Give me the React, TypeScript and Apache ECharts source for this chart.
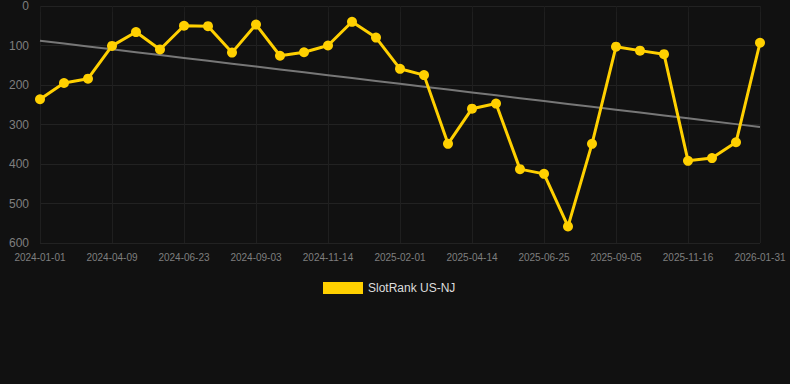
import React, { useEffect, useRef } from "react";
import * as echarts from "echarts";

const categories: string[] = [
  "2024-01-01", "2024-02-03", "2024-03-07", "2024-04-09", "2024-05-04", "2024-05-29",
  "2024-06-23", "2024-07-17", "2024-08-10", "2024-09-03", "2024-09-27", "2024-10-21",
  "2024-11-14", "2024-12-10", "2025-01-06", "2025-02-01", "2025-02-25", "2025-03-21",
  "2025-04-14", "2025-05-08", "2025-06-01", "2025-06-25", "2025-07-19", "2025-08-12",
  "2025-09-05", "2025-09-29", "2025-10-23", "2025-11-16", "2025-12-11", "2026-01-06",
  "2026-01-31",
];

const rankValues: number[] = [
  236, 195, 184, 101, 66, 110, 50, 51, 118, 47, 126, 117, 100, 40, 80, 159, 175,
  349, 260, 247, 413, 425, 558, 349, 103, 113, 122, 392, 385, 345, 93,
];

const seriesName = "SlotRank US-NJ";
const yTicks = { min: 0, max: 600, interval: 100 };

function linearTrend(values: number[]): number[] {
  const n = values.length;
  const mx = (n - 1) / 2;
  const my = values.reduce((a, b) => a + b, 0) / n;
  let num = 0;
  let den = 0;
  values.forEach((v, i) => {
    num += (i - mx) * (v - my);
    den += (i - mx) * (i - mx);
  });
  const slope = num / den;
  return values.map((_, i) => my + slope * (i - mx));
}

export default function App() {
  const ref = useRef<HTMLDivElement>(null);
  useEffect(() => {
    if (!ref.current) return;
    const chart = echarts.init(ref.current, undefined, { renderer: "svg" });
    const trend = linearTrend(rankValues);
    chart.setOption({
      animation: false,
      backgroundColor: "#111111",
      grid: { left: 40, right: 30, top: 6, bottom: 141 },
      legend: {
        data: [{ name: seriesName, icon: "rect" }],
        top: 277,
        left: 318,
        itemWidth: 40,
        itemHeight: 12,
        itemGap: 10,
        textStyle: { color: "#dddddd", fontSize: 12, fontFamily: "Liberation Sans, Arial, sans-serif" },
      },
      xAxis: {
        type: "category",
        data: categories,
        boundaryGap: false,
        axisLine: { show: false },
        axisTick: { show: true, interval: 2, length: 6, lineStyle: { color: "#1c1c1c" } },
        axisLabel: {
          interval: 2,
          color: "#7f7f7f",
          fontSize: 10,
          margin: 9,
          fontFamily: "Liberation Sans, Arial, sans-serif",
        },
        splitLine: { show: true, interval: 2, lineStyle: { color: "#1f1f1f", width: 1 } },
      },
      yAxis: {
        type: "value",
        inverse: true,
        min: yTicks.min,
        max: yTicks.max,
        interval: yTicks.interval,
        axisLine: { show: false },
        axisTick: { show: false },
        axisLabel: {
          color: "#7f7f7f",
          fontSize: 12,
          margin: 11,
          fontFamily: "Liberation Sans, Arial, sans-serif",
        },
        splitLine: { show: true, lineStyle: { color: "#222222", width: 1 } },
      },
      series: [
        {
          name: "trend",
          type: "line",
          data: trend,
          showSymbol: false,
          symbol: "none",
          lineStyle: { color: "#777777", width: 2 },
          z: 1,
          silent: true,
        },
        {
          name: seriesName,
          type: "line",
          data: rankValues,
          symbol: "circle",
          symbolSize: 10,
          showSymbol: true,
          lineStyle: { color: "#ffd000", width: 3 },
          itemStyle: { color: "#ffd000" },
          z: 3,
        },
      ],
    });
    return () => chart.dispose();
  }, []);
  return (
    <div
      ref={ref}
      style={{ position: "fixed", left: 0, top: 0, width: 790, height: 384 }}
    />
  );
}
